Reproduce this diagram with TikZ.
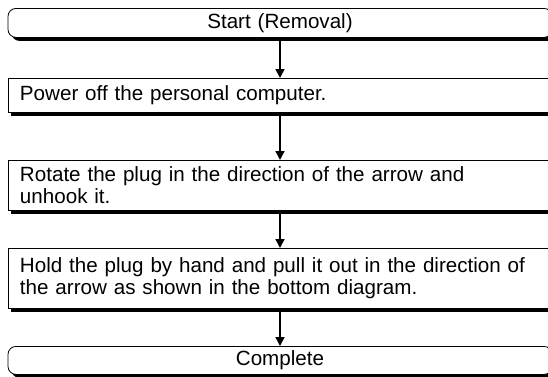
\documentclass[tikz,border=0pt]{standalone}
\usepackage{fontspec}
\setmainfont{Liberation Sans}
\usetikzlibrary{arrows.meta,shadows}

\begin{document}
\begin{tikzpicture}[x=1bp, y=-1bp, line width=0.8bp, font=\fontsize{20.6bp}{22bp}\selectfont,
  stepbox/.style={draw, fill=white, anchor=north, minimum width=544bp, inner xsep=12bp, inner ysep=0bp,
    text width=520bp, align=left,
    drop shadow={shadow xshift=3.5bp, shadow yshift=-3.5bp, opacity=1, fill=black}},
  termbox/.style={stepbox, rounded corners=8bp, align=center},
  flow/.style={line width=1.6bp, -{Triangle[length=9bp, width=9bp]}}]
  \useasboundingbox (0,0) rectangle (548,376);
  % boxes, top to bottom
  \node[termbox, minimum height=29bp] (start) at (280,8) {Start (Removal)};
  \node[stepbox, minimum height=34bp] (poweroff) at (280,78) {Power off the personal computer.};
  \node[stepbox, minimum height=50bp] (rotate) at (280,160) {Rotate the plug in the direction of the arrow and\\unhook it.};
  \node[stepbox, minimum height=60bp] (pullout) at (280,248) {Hold the plug by hand and pull it out in the direction of\\the arrow as shown in the bottom diagram.};
  \node[termbox, minimum height=28bp] (complete) at (280,346) {Complete};
  % connectors
  \draw[flow] ([yshift=-3.5bp]start.south) -- (poweroff.north);
  \draw[flow] ([yshift=-3.5bp]poweroff.south) -- (rotate.north);
  \draw[flow] ([yshift=-3.5bp]rotate.south) -- (pullout.north);
  \draw[flow] ([yshift=-3.5bp]pullout.south) -- (complete.north);
\end{tikzpicture}
\end{document}
